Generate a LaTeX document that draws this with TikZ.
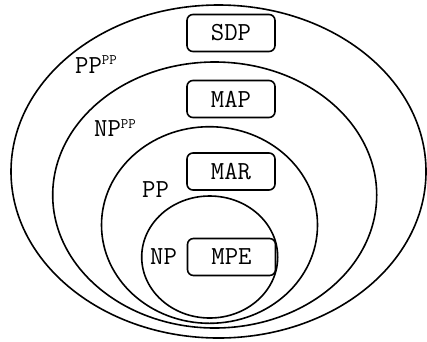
\documentclass[tikz,border=0pt]{standalone}
\usepackage{fontspec}
\begin{document}
\begin{tikzpicture}[x=1pt,y=-1pt,
  set/.style={draw=black,line width=1.6pt},
  problem/.style={draw=black,line width=1.6pt,rounded corners=6pt,
    minimum width=88pt,minimum height=37pt,inner sep=0pt,
    font=\ttfamily\fontsize{26}{26}\selectfont},
  cls/.style={anchor=base west,inner sep=0pt,
    font=\ttfamily\fontsize{26}{26}\selectfont}]
\newcommand{\supcls}[1]{\raisebox{8.5pt}{\fontsize{14.5}{14.5}\selectfont #1}}
\useasboundingbox (0,0) rectangle (427,341);
% nested complexity classes
\draw[set] (218.5,171.5) ellipse [x radius=207.5, y radius=166.5];
\draw[set] (214.7,195) ellipse [x radius=162, y radius=133];
\draw[set] (209.5,225) ellipse [x radius=108, y radius=98.3];
\draw[set] (209.7,257) ellipse [x radius=68, y radius=61];
% problems
\node[problem] (sdp) at (231,33) {SDP};
\node[problem] (map) at (231,99) {MAP};
\node[problem] (mar) at (231,171.5) {MAR};
\node[problem] (mpe) at (231.5,257) {MPE};
% class labels
\node[cls] (pppp) at (75,73.3) {PP\supcls{PP}};
\node[cls] (nppp) at (94,136.5) {NP\supcls{PP}};
\node[cls] (pp) at (142,197) {PP};
\node[cls] (np) at (150,264) {NP};
\end{tikzpicture}
\end{document}
